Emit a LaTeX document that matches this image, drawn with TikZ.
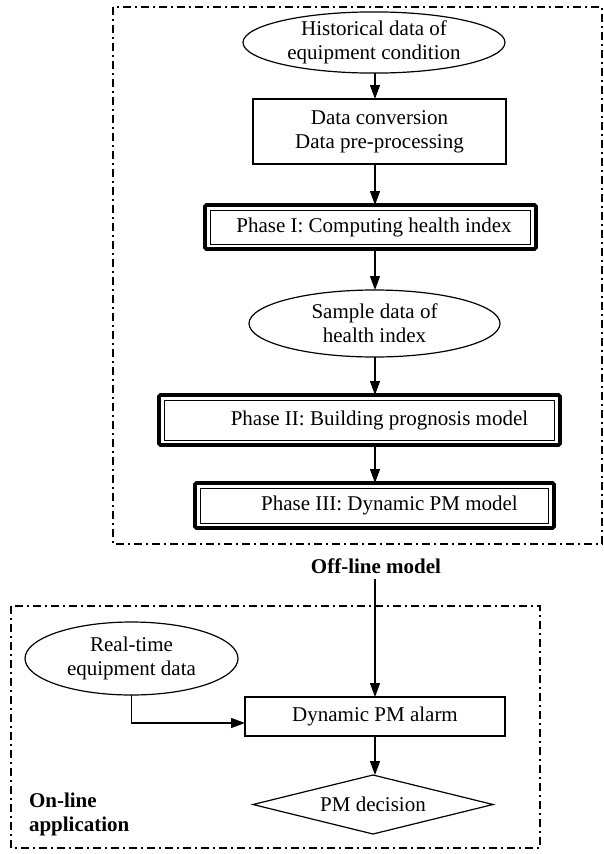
\documentclass[tikz,border=0pt]{standalone}
\usepackage{fontspec}
\setmainfont{Liberation Serif}
\usetikzlibrary{shapes.geometric,arrows.meta,calc}
\begin{document}
\begin{tikzpicture}[x=1pt,y=-1pt,
  every node/.style={font=\fontsize{21}{24}\selectfont, inner sep=0pt, outer sep=0pt, align=center},
  lw/.style={line width=1.2pt},
  ell/.style={ellipse, draw, lw},
  plainbox/.style={rectangle, draw, lw},
  phasebox/.style={rectangle, draw, line width=3.8pt, rounded corners=1.5pt},
  innerline/.style={line width=1pt},
  decision/.style={diamond, draw, lw, aspect=4},
  arr/.style={lw, -{Triangle[length=14pt,width=10pt]}},
  region/.style={line width=2pt, dash pattern=on 8pt off 4pt on 2pt off 4pt},
  lbl/.style={font=\fontsize{21}{24}\selectfont\bfseries}
]
\useasboundingbox (0,0) rectangle (604,854);

% regions
\draw[region] (113,7) rectangle (602,544);
\draw[region] (11,606) rectangle (540,848);

\coordinate (col) at (375,0);

% off-line part
\node[ell, minimum width=262pt, minimum height=59pt] (hist) at (374,42.5) {Historical data of\\equipment condition};
\node[plainbox, minimum width=253pt, minimum height=65pt] (conv) at (379.5,131.5) {Data conversion\\Data pre-processing};
\node[phasebox, minimum width=331pt, minimum height=44pt] (p1) at (370.5,227) {\hspace*{7pt}Phase I: Computing health index};
\node[ell, minimum width=251pt, minimum height=67pt] (samp) at (374.5,323.5) {Sample data of\\health index};
\node[phasebox, minimum width=401pt, minimum height=50pt] (p2) at (359.5,420) {\hspace*{40pt}Phase II: Building prognosis model};
\node[phasebox, minimum width=359pt, minimum height=45pt] (p3) at (374.5,505.5) {\hspace*{30pt}Phase III: Dynamic PM model};

\draw[innerline] ([shift={(5.5,5)}]p1.north west) rectangle ([shift={(-5.5,-5)}]p1.south east);
\draw[innerline] ([shift={(5.5,5)}]p2.north west) rectangle ([shift={(-5.5,-5)}]p2.south east);
\draw[innerline] ([shift={(5.5,5)}]p3.north west) rectangle ([shift={(-5.5,-5)}]p3.south east);

\node[lbl] (off) at (376,566) {Off-line model};

% on-line part
\node[ell, minimum width=213pt, minimum height=73pt] (rt) at (131.5,658.5) {Real-time\\equipment data};
\node[plainbox, minimum width=260pt, minimum height=39pt] (alarm) at (375,716.5) {Dynamic PM alarm};
\node[decision, minimum width=240pt, minimum height=59pt] (dec) at (373,804.5) {PM decision};
\node[lbl, anchor=west, align=left] (onl) at (29,814.5) {On-line\\application};

% connectors
\draw[arr] (hist.south -| col) -- (conv.north -| col);
\draw[arr] (conv.south -| col) -- (p1.north -| col);
\draw[arr] (p1.south -| col) -- (samp.north -| col);
\draw[arr] (samp.south -| col) -- (p2.north -| col);
\draw[arr] (p2.south -| col) -- (p3.north -| col);
\draw[arr] ($(off.south -| col)+(0,5)$) -- (alarm.north -| col);
\draw[arr] (rt.south) |- ($(alarm.west)+(0,6.5)$);
\draw[arr] (alarm.south -| col) -- (dec.north -| col);
\end{tikzpicture}
\end{document}
